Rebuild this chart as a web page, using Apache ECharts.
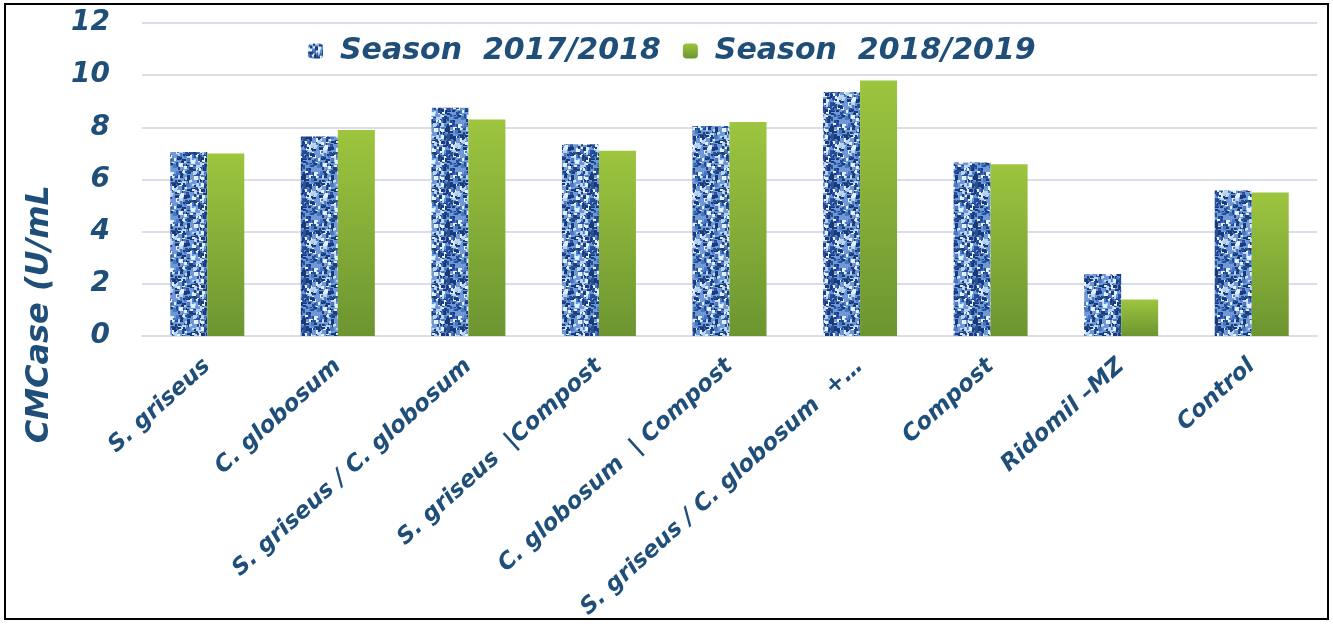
<!DOCTYPE html>
<html><head><meta charset="utf-8">
<script src="https://cdn.jsdelivr.net/npm/echarts@6/dist/echarts.min.js"></script>
<style>
html,body{margin:0;padding:0;background:#fff;}
#chart{position:absolute;left:0;top:0;width:1333px;height:624px;}
#frame{position:absolute;left:4px;top:3px;width:1321px;height:613px;border:2px solid #000;pointer-events:none;}
</style>
</head><body>
<div id="chart"></div><div id="frame"></div>
<script>
const categories = [
  "S. griseus",
  "C. globosum",
  "S. griseus / C. globosum",
  "S. griseus  |Compost",
  "C. globosum  | Compost",
  "S. griseus / C. globosum  +\u2026",
  "Compost",
  "Ridomil \u2013MZ",
  "Control"
];
const season1 = [7.05, 7.65, 8.75, 7.35, 8.05, 9.35, 6.65, 2.38, 5.58];
const season2 = [7.0, 7.9, 8.3, 7.1, 8.2, 9.8, 6.58, 1.4, 5.5];
const seriesNames = ["Season  2017/2018", "Season  2018/2019"];
const yTicks = [0, 2, 4, 6, 8, 10, 12];

const FONT = "DejaVu Sans";
const NAVY = "#1F4E79";

function makeTexture(){
  const N = 48;
  const c = document.createElement('canvas'); c.width = N; c.height = N;
  const g = c.getContext('2d');
  g.fillStyle = '#6E98D6'; g.fillRect(0,0,N,N);
  let s = 987654;
  const rnd = () => { s = (s * 1103515245 + 12345) & 0x7fffffff; return s / 0x7fffffff; };
  const cols = ['#1B3A7A','#26509A','#B9D3F3','#E4EFFC','#4A78C2','#1B3A7A'];
  for (let i = 0; i < 320; i++) {
    g.fillStyle = cols[Math.floor(rnd() * cols.length)];
    const x = Math.floor(rnd() * N), y = Math.floor(rnd() * N);
    const w = 2 + Math.floor(rnd() * 3), h = 2 + Math.floor(rnd() * 3);
    for (const dx of [0, -N]) for (const dy of [0, -N]) g.fillRect(x + dx, y + dy, w, h);
  }
  return c;
}
const texture = makeTexture();

const chart = echarts.init(document.getElementById('chart'), null, {renderer: 'canvas'});
chart.setOption({
  animation: false,
  backgroundColor: '#ffffff',
  grid: {left: 142, right: 16, top: 23, bottom: 288, containLabel: false, outerBoundsMode: 'none'},
  legend: {
    top: 31, left: 303, itemWidth: 15, itemHeight: 15, itemGap: 22,
    data: seriesNames,
    textStyle: {fontFamily: FONT, fontWeight: 'bold', fontStyle: 'italic', fontSize: 30, color: NAVY, padding: [0,0,0,12]}
  },
  xAxis: {
    type: 'category', data: categories,
    axisLine: {show: true, lineStyle: {color: '#D9DEE8', width: 2}},
    axisTick: {show: false},
    axisLabel: {interval: 0, rotate: 42, margin: 27, fontFamily: FONT, fontWeight: 'bold', fontStyle: 'italic', fontSize: 23, color: NAVY}
  },
  yAxis: {
    type: 'value', min: 0, max: 12, interval: 2,
    axisLine: {show: false}, axisTick: {show: false},
    splitLine: {lineStyle: {color: '#D9DEE8', width: 2}},
    axisLabel: {margin: 32, fontFamily: FONT, fontWeight: 'bold', fontStyle: 'italic', fontSize: 28, color: NAVY,
      formatter: v => yTicks.includes(v) ? String(v) : ''}
  },
  graphic: [{
    type: 'text', left: 24, top: 185, rotation: Math.PI / 2,
    style: {text: 'CMCase (U/mL', fontFamily: FONT, fontWeight: 'bold', fontStyle: 'italic', fontSize: 32, fill: NAVY}
  }],
  series: [
    {name: seriesNames[0], type: 'bar', data: season1, barWidth: 37, barGap: '0%',
      itemStyle: {color: {image: texture, repeat: 'repeat'}}},
    {name: seriesNames[1], type: 'bar', data: season2, barWidth: 37,
      itemStyle: {color: new echarts.graphic.LinearGradient(0,0,0,1,[{offset:0,color:'#9DC53F'},{offset:1,color:'#6C9531'}])}}
  ]
});
</script>
</body></html>
